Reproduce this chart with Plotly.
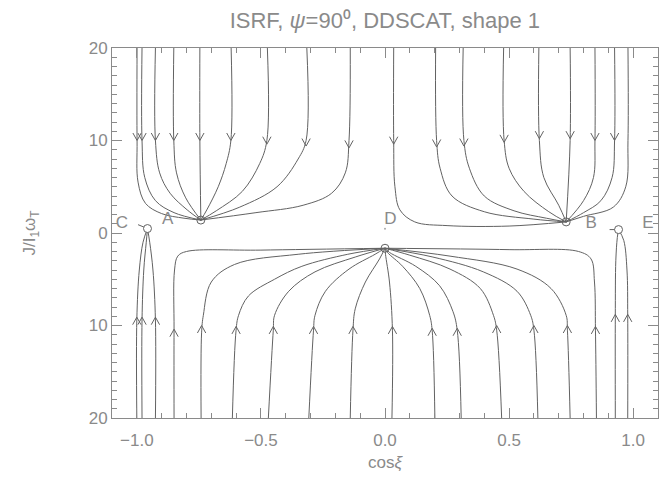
import plotly.graph_objects as go

# ---------------- data ----------------
# fixed points (cos xi, J/I1 wT)
point_names = ["A", "B", "C", "D", "E"]
attractor_x = [-0.742, 0.730, 0.0]
attractor_y = [1.4, 1.2, -1.65]
open_x = [-0.957, 0.941]
open_y = [0.48, 0.37]
saddle_x = [0.0]
saddle_y = [0.45]
label_x = [-0.876, 0.831, -1.06, 0.022, 1.059]
label_y = [1.4, 0.95, 0.95, 1.4, 1.05]

# trajectories ending in A (from the top)
ul_x = [
    [-0.999, -0.999, -0.995, -0.965, -0.90, -0.81, -0.742],
    [-0.979, -0.979, -0.968, -0.925, -0.85, -0.742],
    [-0.925, -0.925, -0.908, -0.866, -0.797, -0.742],
    [-0.851, -0.851, -0.840, -0.803, -0.742],
    [-0.746, -0.746, -0.742],
    [-0.620, -0.621, -0.640, -0.672, -0.718, -0.742],
    [-0.474, -0.476, -0.505, -0.575, -0.680, -0.742],
    [-0.315, -0.318, -0.350, -0.435, -0.585, -0.742],
    [-0.140, -0.145, -0.160, -0.215, -0.330, -0.520, -0.742],
]
ul_y = [
    [20, 10, 5.5, 3.2, 2.1, 1.6, 1.4],
    [20, 10, 6.0, 3.5, 2.2, 1.4],
    [20, 10, 6.5, 4.3, 2.5, 1.4],
    [20, 10, 6.5, 3.8, 1.4],
    [20, 10, 1.4],
    [20, 10, 7.5, 5.0, 2.5, 1.4],
    [20, 10, 7.5, 4.5, 2.4, 1.4],
    [20, 10, 8.0, 5.0, 2.8, 1.4],
    [20, 10, 6.5, 4.3, 3.0, 2.2, 1.4],
]
# trajectories ending in B (from the top)
ur_x = [
    [0.035, 0.035, 0.040, 0.060, 0.120, 0.250, 0.500, 0.730],
    [0.204, 0.208, 0.222, 0.270, 0.400, 0.600, 0.730],
    [0.315, 0.318, 0.340, 0.400, 0.520, 0.650, 0.730],
    [0.478, 0.480, 0.500, 0.560, 0.660, 0.730],
    [0.620, 0.622, 0.640, 0.700, 0.730],
    [0.746, 0.746, 0.730],
    [0.846, 0.846, 0.840, 0.800, 0.730],
    [0.925, 0.925, 0.915, 0.870, 0.800, 0.730],
    [0.979, 0.979, 0.970, 0.920, 0.800, 0.730],
]
ur_y = [
    [20, 10, 5.0, 2.5, 1.2, 0.8, 0.75, 1.2],
    [20, 10, 7.0, 4.0, 2.3, 1.5, 1.2],
    [20, 10, 7.0, 4.0, 2.4, 1.6, 1.2],
    [20, 10, 7.0, 4.5, 2.3, 1.2],
    [20, 10, 6.0, 3.0, 1.2],
    [20, 10, 1.2],
    [20, 10, 6.0, 3.5, 1.2],
    [20, 10, 6.0, 3.5, 2.2, 1.2],
    [20, 10, 5.0, 2.8, 1.8, 1.2],
]
# trajectories ending in D (from the bottom)
lo_x = [
    [-0.850, -0.850, -0.848, -0.835, -0.800, -0.500, 0.0],
    [-0.741, -0.739, -0.732, -0.700, -0.606, -0.350, 0.0],
    [-0.615, -0.600, -0.590, -0.550, -0.445, -0.335, -0.150, 0.0],
    [-0.470, -0.450, -0.445, -0.388, -0.282, -0.120, 0.0],
    [-0.307, -0.288, -0.282, -0.240, -0.145, -0.040, 0.0],
    [-0.140, -0.129, -0.120, -0.079, -0.022, 0.0],
    [0.028, 0.030, 0.018, 0.002, 0.0],
    [0.201, 0.190, 0.180, 0.140, 0.071, 0.010, 0.0],
    [0.307, 0.291, 0.274, 0.220, 0.124, 0.018, 0.0],
    [0.470, 0.450, 0.437, 0.384, 0.262, 0.100, 0.0],
    [0.616, 0.600, 0.587, 0.532, 0.396, 0.193, 0.0],
    [0.746, 0.735, 0.730, 0.669, 0.532, 0.262, 0.0],
    [0.852, 0.848, 0.844, 0.830, 0.780, 0.500, 0.0],
]
lo_y = [
    [-20, -10.5, -4.0, -2.5, -2.0, -1.85, -1.65],
    [-20, -10.8, -8.9, -5.3, -3.4, -2.3, -1.65],
    [-20, -10.5, -8.9, -6.8, -5.0, -3.6, -2.3, -1.65],
    [-20, -10.5, -8.9, -6.3, -4.2, -2.6, -1.65],
    [-20, -10.5, -8.9, -6.3, -3.9, -2.3, -1.65],
    [-20, -10.5, -8.2, -5.3, -2.8, -1.65],
    [-20, -10.5, -5.3, -2.3, -1.65],
    [-20, -10.5, -8.9, -6.0, -3.6, -2.1, -1.65],
    [-20, -10.5, -8.5, -5.7, -3.6, -2.1, -1.65],
    [-20, -10.5, -8.9, -6.0, -3.9, -2.4, -1.65],
    [-20, -10.5, -8.9, -6.3, -4.2, -2.6, -1.65],
    [-20, -10.5, -8.9, -6.0, -3.9, -2.5, -1.65],
    [-20, -10.5, -5.3, -2.8, -2.0, -1.8, -1.65],
]
# trajectories ending in C and E (from the bottom)
ce_x = [
    [-1.000, -1.000, -0.990, -0.975, -0.957],
    [-0.979, -0.979, -0.972, -0.962, -0.957],
    [-0.925, -0.925, -0.935, -0.948, -0.957],
    [0.928, 0.928, 0.930, 0.936, 0.941],
    [0.978, 0.978, 0.975, 0.962, 0.941],
    [-0.957, -0.995],
    [0.941, 0.905],
]
ce_y = [
    [-20, -9.4, -4.0, -1.0, 0.48],
    [-20, -9.4, -4.0, -1.0, 0.48],
    [-20, -9.4, -4.0, -1.0, 0.48],
    [-20, -9.0, -3.0, -0.5, 0.37],
    [-20, -9.0, -4.0, -0.8, 0.37],
    [0.48, 0.9],
    [0.37, 0.37],
]
# arrow heads (apex positions)
down_arrow_x = [-0.999, -0.979, -0.925, -0.851, -0.746, -0.621, -0.476, -0.318, -0.145,
                0.035, 0.208, 0.318, 0.480, 0.622, 0.746, 0.846, 0.925]
down_arrow_y = [10.0, 10.0, 10.0, 10.0, 10.0, 10.0, 9.6, 9.4, 9.2,
                9.6, 9.3, 9.4, 9.8, 10.2, 10.2, 10.0, 10.0]
up_arrow_x = [-1.000, -0.979, -0.925, -0.850, -0.739, -0.600, -0.450, -0.288, -0.129, 0.030,
              0.190, 0.291, 0.450, 0.600, 0.735, 0.848, 0.928, 0.978]
up_arrow_y = [-9.1, -9.1, -9.1, -10.4, -10.0, -10.1, -10.1, -10.1, -10.1, -10.1,
              -10.3, -10.3, -10.0, -10.0, -10.0, -10.1, -8.8, -8.8]

x_tick_vals = [-1.0, -0.5, 0.0, 0.5, 1.0]
x_tick_text = ["\u22121.0", "\u22120.5", "0.0", "0.5", "1.0"]
y_tick_vals = [20, 10, 0, -10, -20]
y_tick_text = ["20", "10", "0", "10", "20"]

# ---------------- figure ----------------
LINE = "#626262"
TXT = "#8a8a8a"
FONT = "Liberation Sans"

fig = go.Figure()
for xs_all, ys_all in [(ul_x, ul_y), (ur_x, ur_y), (lo_x, lo_y), (ce_x, ce_y)]:
    for xs, ys in zip(xs_all, ys_all):
        fig.add_trace(go.Scatter(x=xs, y=ys, mode="lines",
                                 line=dict(color=LINE, width=1, shape="spline", smoothing=1.0),
                                 hoverinfo="skip", showlegend=False))

fig.add_trace(go.Scatter(x=attractor_x, y=attractor_y, mode="markers",
                         marker=dict(symbol="circle-open-dot", size=8, color=LINE,
                                     line=dict(color=LINE, width=1)),
                         showlegend=False, hoverinfo="skip"))
fig.add_trace(go.Scatter(x=open_x, y=open_y, mode="markers",
                         marker=dict(symbol="circle", size=8, color="white",
                                     line=dict(color=LINE, width=1)),
                         showlegend=False, hoverinfo="skip"))
fig.add_trace(go.Scatter(x=saddle_x, y=saddle_y, mode="markers",
                         marker=dict(symbol="circle", size=2, color="#aaaaaa"),
                         showlegend=False, hoverinfo="skip"))
fig.add_trace(go.Scatter(x=label_x, y=label_y, mode="text",
                         text=point_names,
                         textfont=dict(family=FONT, size=17, color=TXT),
                         showlegend=False, hoverinfo="skip"))

annotations = []
for ax_, ay_ in [(-5, -9), (5, -9)]:
    for x, y in zip(down_arrow_x, down_arrow_y):
        annotations.append(dict(x=x, y=y, xref="x", yref="y", text="", showarrow=True,
                                arrowhead=0, arrowwidth=1, arrowcolor=LINE, ax=ax_, ay=ay_, standoff=0))
for ax_, ay_ in [(-5, 9), (5, 9)]:
    for x, y in zip(up_arrow_x, up_arrow_y):
        annotations.append(dict(x=x, y=y, xref="x", yref="y", text="", showarrow=True,
                                arrowhead=0, arrowwidth=1, arrowcolor=LINE, ax=ax_, ay=ay_, standoff=0))

fig.update_layout(
    width=667, height=490,
    margin=dict(l=104, r=17, t=40, b=80),
    paper_bgcolor="white", plot_bgcolor="white",
    font=dict(family=FONT, size=17, color=TXT),
    title=dict(text="ISRF, <i>\u03c8</i>=90\u2070, DDSCAT, shape 1",
               x=0.565, xanchor="center", y=0.991, yanchor="top",
               font=dict(family=FONT, size=22, color=TXT)),
    annotations=annotations,
    showlegend=False,
)
axis_common = dict(showgrid=False, zeroline=False, showline=True, linecolor="#8a8a8a", linewidth=1,
                   ticks="inside", ticklen=10, tickcolor="#8a8a8a", mirror="ticks", automargin=False,
                   tickfont=dict(family=FONT, size=17, color=TXT))
fig.update_xaxes(range=[-1.1, 1.1], tickvals=x_tick_vals, ticktext=x_tick_text,
                 minor=dict(dtick=0.1, ticklen=5, ticks="inside", tickcolor="#8a8a8a"),
                 ticklabelstandoff=7,
                 title=dict(text="cos<i>\u03be</i>", font=dict(family=FONT, size=17, color=TXT), standoff=6),
                 **axis_common)
fig.update_yaxes(range=[-20, 20], tickvals=y_tick_vals, ticktext=y_tick_text,
                 minor=dict(dtick=1, ticklen=5, ticks="inside", tickcolor="#8a8a8a"),
                 title=dict(text="J/I<sub>1</sub>\u03c9<sub>T</sub>", font=dict(family=FONT, size=17, color=TXT), standoff=48),
                 **axis_common)

fig.write_html("out.html")
